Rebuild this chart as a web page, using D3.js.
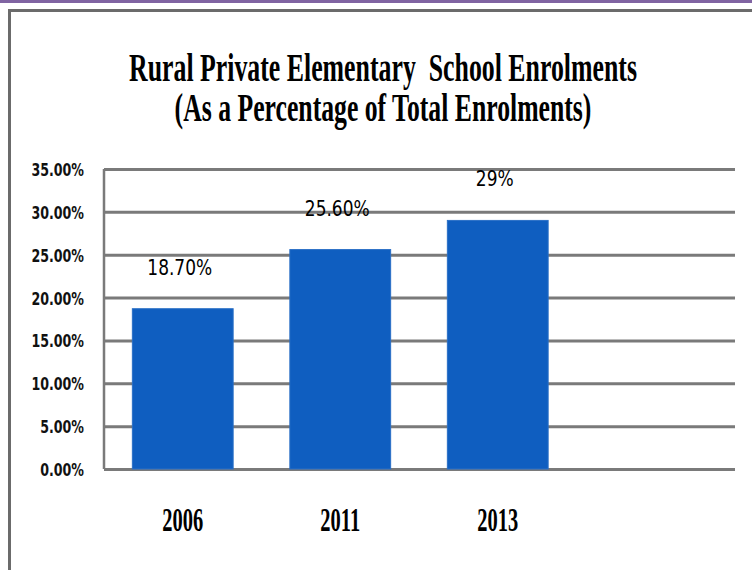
<!DOCTYPE html>
<html>
<head>
<meta charset="utf-8">
<script src="https://cdn.jsdelivr.net/npm/d3@7"></script>
<style>
  body { margin: 0; background: #fff; }
  svg { display: block; }
  .tick-label { font-family: "DejaVu Sans Condensed", "DejaVu Sans", sans-serif; font-weight: bold; font-size: 18px; fill: #111; }
  .bar-label { font-family: "DejaVu Sans Condensed", "DejaVu Sans", sans-serif; font-size: 22px; fill: #000; }
  .serif-bold { font-family: "Liberation Serif", "Times New Roman", serif; font-weight: bold; fill: #000; }
</style>
</head>
<body>
<div id="chart"></div>
<script>
// data
const years = ["2006", "2011", "2013"];
const shares = [18.7, 25.6, 29];
const valueLabels = ["18.70%", "25.60%", "29%"];
const yTicks = [0, 5, 10, 15, 20, 25, 30, 35];
const titleLines = ["Rural Private Elementary  School Enrolments", "(As a Percentage of Total Enrolments)"];

const W = 752, H = 570;
const plot = { left: 104, top: 169, bottom: 469, right: 735 };
const step = 157.5;

const svg = d3.select("#chart")
    .append("svg")
    .attr("width", W)
    .attr("height", H);

// purple strip at top + grey frame
svg.append("rect").attr("x", 0).attr("y", 0).attr("width", W).attr("height", 3).attr("fill", "#8064a2");
svg.append("rect").attr("x", 8).attr("y", 9).attr("width", W - 8).attr("height", 3).attr("fill", "#6b6b6b");
svg.append("rect").attr("x", 8).attr("y", 9).attr("width", 3).attr("height", H - 9).attr("fill", "#6b6b6b");

// title, squeezed horizontally like the original
const titleBase = [81, 121];
const titleWidth = [508, 417];
titleLines.forEach((t, i) => {
    const g = svg.append("g");
    const txt = g.append("text")
        .attr("class", "serif-bold")
        .attr("font-size", 40)
        .attr("text-anchor", "middle")
        .attr("xml:space", "preserve")
        .style("white-space", "pre")
        .text(t);
    const natural = txt.node().getComputedTextLength();
    const sx = titleWidth[i] / natural;
    g.attr("transform", `translate(383, ${titleBase[i]}) scale(${sx}, 1)`);
});

const yScale = d3.scaleLinear()
    .domain([0, 35])
    .range([plot.bottom, plot.top]);

const xScale = d3.scaleBand()
    .domain(years)
    .range([plot.left, plot.left + step * years.length])
    .paddingInner(0.36)
    .paddingOuter(0.18);

// gridlines
const grid = svg.append("g")
    .attr("transform", `translate(${plot.left}, 0)`)
    .call(d3.axisRight(yScale).tickValues(yTicks).tickSize(plot.right - plot.left).tickFormat(""));
grid.select(".domain").remove();
grid.selectAll(".tick line").attr("stroke", "#7a7a7a").attr("stroke-width", 3);

// left axis line
svg.append("line")
    .attr("x1", plot.left).attr("x2", plot.left)
    .attr("y1", yScale(35)).attr("y2", yScale(0))
    .attr("stroke", "#7a7a7a")
    .attr("stroke-width", 2.5);

// y tick labels (narrowed so they look like the condensed original)
const tickSx = 0.78;
const yAxis = svg.append("g")
    .attr("transform", `translate(${plot.left}, 0)`)
    .call(d3.axisLeft(yScale).tickValues(yTicks).tickSize(0).tickPadding(20).tickFormat(d => d.toFixed(2) + "%"));
yAxis.select(".domain").remove();
yAxis.selectAll("text")
    .attr("class", "tick-label")
    .attr("dy", "0.36em")
    .attr("x", -20 / tickSx)
    .attr("transform", `scale(${tickSx}, 1)`);

// bars
const rows = years.map((y, i) => ({ year: y, value: shares[i], label: valueLabels[i] }));

svg.append("g").selectAll("rect")
    .data(rows)
    .join("rect")
    .attr("x", d => xScale(d.year))
    .attr("y", d => yScale(d.value))
    .attr("width", xScale.bandwidth())
    .attr("height", d => yScale(0) - yScale(d.value))
    .attr("fill", "#0f5ec0")
    .attr("stroke", "#2a6fc6")
    .attr("stroke-width", 1);

// value labels
svg.append("g").selectAll("text")
    .data(rows)
    .join("text")
    .attr("class", "bar-label")
    .attr("text-anchor", "middle")
    .attr("transform", d => `translate(${xScale(d.year) + xScale.bandwidth() / 2 - 3}, ${yScale(d.value) - 34}) scale(0.86, 1)`)
    .text(d => d.label);

// category labels, condensed serif
svg.append("g").selectAll("text")
    .data(rows)
    .join("text")
    .attr("class", "serif-bold")
    .attr("font-size", 33)
    .attr("text-anchor", "middle")
    .attr("transform", d => `translate(${xScale(d.year) + xScale.bandwidth() / 2}, 531) scale(0.62, 1)`)
    .text(d => d.year);
</script>
</body>
</html>
